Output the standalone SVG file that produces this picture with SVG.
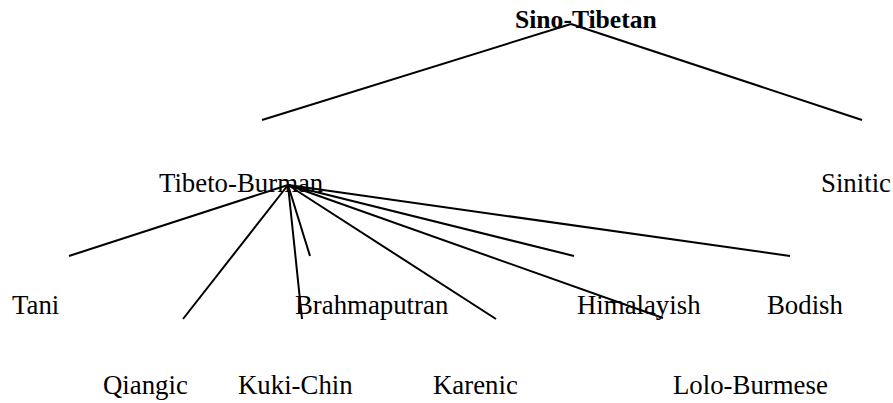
<svg xmlns="http://www.w3.org/2000/svg" width="893" height="403" viewBox="0 0 893 403">
<style>
text{font-family:"Liberation Serif","Times New Roman",serif;font-size:26.8px;fill:#000}
.root{font-weight:bold;font-size:25.6px}
.c line{stroke:#000;stroke-width:2;fill:none}
</style>
<rect width="893" height="403" fill="#fff"/>
<g id="n-sino-tibetan"><text class="root" x="515" y="28">Sino-Tibetan</text></g>
<g id="n-tibeto-burman"><text x="159" y="192">Tibeto-Burman</text></g>
<g id="n-sinitic"><text x="821" y="192">Sinitic</text></g>
<g id="n-tani"><text x="12" y="314">Tani</text></g>
<g id="n-brahmaputran"><text x="295" y="314">Brahmaputran</text></g>
<g id="n-himalayish"><text x="577" y="314">Himalayish</text></g>
<g id="n-bodish"><text x="767" y="314">Bodish</text></g>
<g id="n-qiangic"><text x="103" y="394">Qiangic</text></g>
<g id="n-kuki-chin"><text x="238" y="394">Kuki-Chin</text></g>
<g id="n-karenic"><text x="433" y="394">Karenic</text></g>
<g id="n-lolo-burmese"><text x="673" y="394">Lolo-Burmese</text></g>
<g id="connectors" class="c">
<line x1="571" y1="24" x2="262" y2="120"/>
<line x1="571" y1="24" x2="862" y2="120"/>
<line x1="288" y1="185" x2="69" y2="256"/>
<line x1="288" y1="185" x2="183" y2="319"/>
<line x1="288" y1="185" x2="302" y2="319"/>
<line x1="288" y1="185" x2="310" y2="256"/>
<line x1="288" y1="185" x2="496" y2="319"/>
<line x1="288" y1="185" x2="574" y2="256"/>
<line x1="288" y1="185" x2="663" y2="318"/>
<line x1="288" y1="185" x2="790" y2="256"/>
</g>
</svg>
